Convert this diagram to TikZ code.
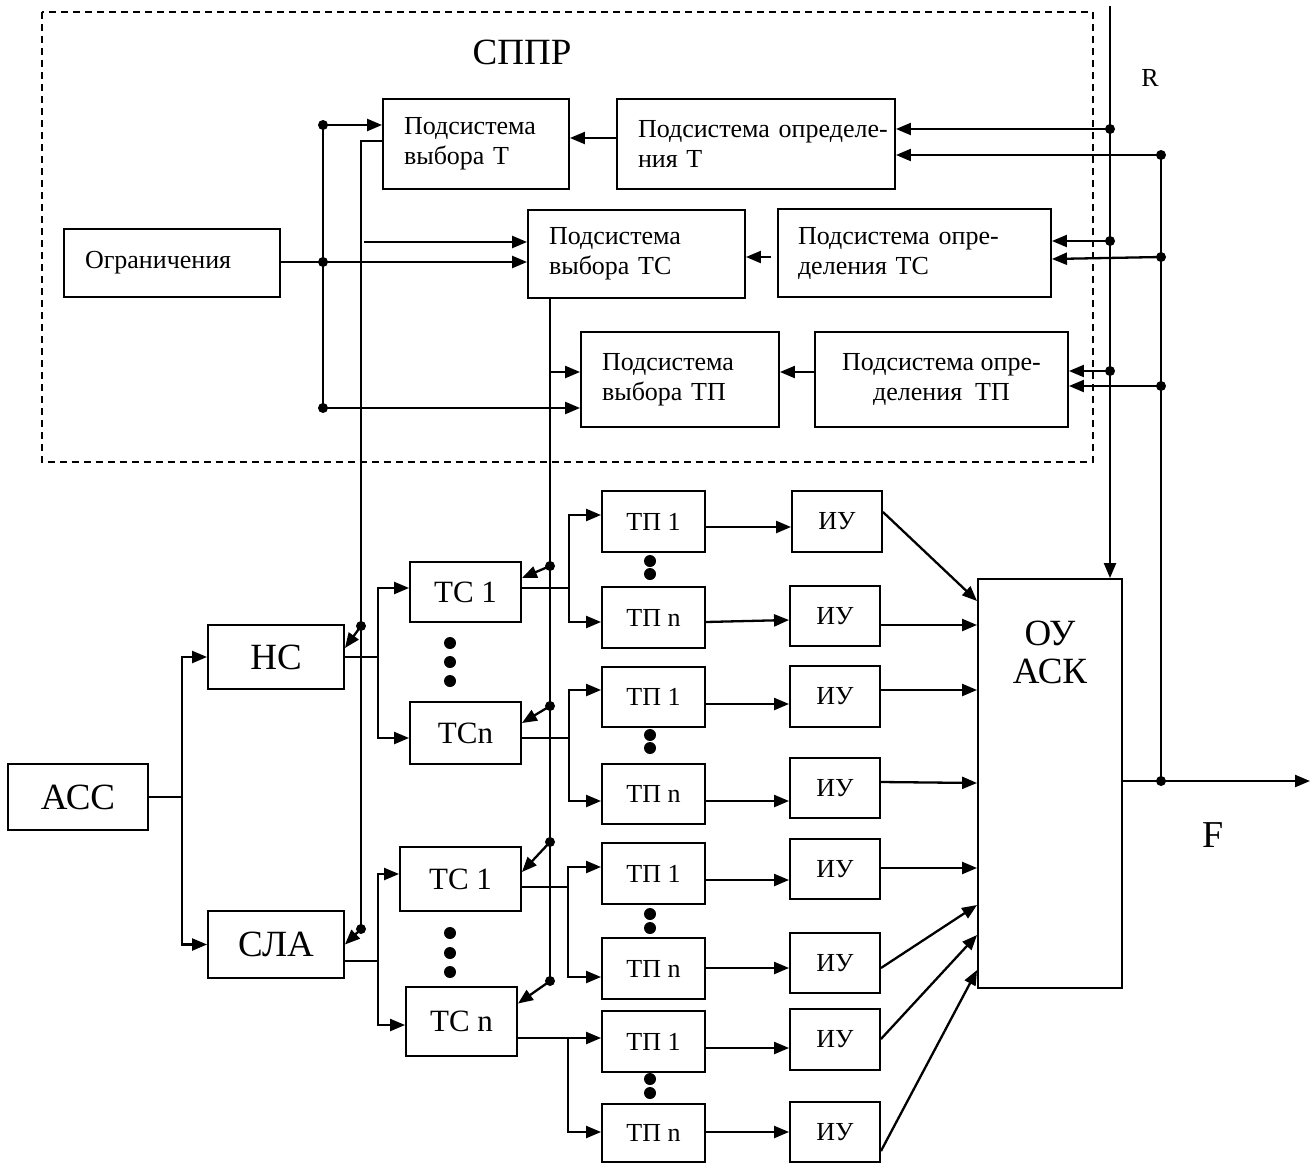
\documentclass[tikz,border=0pt]{standalone}
\usepackage{fontspec}
\setmainfont{Liberation Serif}
\usetikzlibrary{arrows.meta,calc}
\tikzset{
 blk/.style={draw,line width=1.9pt,inner sep=0pt,align=center},
 ar/.style={line width=2.3pt,-{Triangle[length=15pt,width=12pt]}},
 ln/.style={line width=1.9pt},
 fs/.style={font=\fontsize{26}{30}\selectfont},
 fm/.style={font=\fontsize{31}{36}\selectfont},
 fl/.style={font=\fontsize{37}{38}\selectfont},
}
\newcommand\boxC[7][]{%
 \pgfmathsetmacro\qbw{#5-#3}\pgfmathsetmacro\qbh{#6-#4}%
 \pgfmathsetmacro\qbx{(#3+#5)/2}\pgfmathsetmacro\qby{(#4+#6)/2}%
 \node[blk,#1,minimum width=\qbw pt,minimum height=\qbh pt] (#2) at (\qbx,\qby) {#7};}
\newcommand\boxL[8][]{%
 \pgfmathsetmacro\qbw{#5-#3}\pgfmathsetmacro\qbh{#6-#4}%
 \pgfmathsetmacro\qbx{(#3+#5)/2}\pgfmathsetmacro\qby{(#4+#6)/2}%
 \pgfmathsetmacro\qtw{#5-#3-2*#7}%
 \node[blk,#1,minimum width=\qbw pt,minimum height=\qbh pt,text width=\qtw pt,inner xsep=#7pt,align=left] (#2) at (\qbx,\qby) {#8};}
\newcommand\jd[2]{\coordinate (#1) at #2; \fill (#1) circle (5pt);}
\begin{document}
\begin{tikzpicture}[x=1pt,y=-1pt]
\path[use as bounding box] (0,0) rectangle (1316,1164);
% frame
\draw[line width=1.6pt,dash pattern=on 7pt off 5pt] (42,12) rectangle (1093,462);
\node[font=\fontsize{37}{40}\selectfont] (title) at (522,52) {СППР};
\node[font=\fontsize{26}{28}\selectfont] (Rlab) at (1150,78) {R};
\node[font=\fontsize{38}{40}\selectfont] (Flab) at (1213,835) {F};
% top boxes
\boxL[fs]{vybT}{383}{99}{569}{189}{21}{\mbox{Подсистема}\\\mbox{выбора Т}}
\boxL[fs]{oprT}{617}{99}{895}{189}{21}{\mbox{Подсистема определе-}\\\mbox{ния Т}}
\boxL[fs]{ogr}{64}{229}{280}{297}{21}{Ограничения}
\boxL[fs]{vybTC}{528}{210}{745}{298}{21}{\mbox{Подсистема}\\\mbox{выбора ТС}}
\boxL[fs]{oprTC}{778}{209}{1051}{297}{20}{\mbox{Подсистема опре-}\\\mbox{деления ТС}}
\boxL[fs]{vybTP}{581}{332}{779}{427}{21}{\mbox{Подсистема}\\\mbox{выбора ТП}}
\boxC[fs]{oprTP}{815}{332}{1068}{427}{\mbox{Подсистема опре-}\\\mbox{деления\ \ ТП}}
% bottom boxes
\boxC[fl]{acc}{8}{764}{148}{830}{АСС}
\boxC[fl]{ns}{208}{625}{344}{689}{НС}
\boxC[fl]{sla}{208}{911}{344}{978}{СЛА}
\boxC[fm]{tc1a}{410}{562}{521}{622}{ТС 1}
\boxC[fm]{tcna}{410}{702}{521}{764}{ТСn}
\boxC[fm]{tc1b}{400}{847}{521}{911}{ТС 1}
\boxC[fm]{tcnb}{406}{987}{517}{1056}{ТС n}
\boxC[fs]{tp1a}{602}{491}{705}{552}{ТП 1}
\boxC[fs]{tpna}{602}{587}{705}{648}{ТП n}
\boxC[fs]{tp1b}{602}{667}{705}{727}{ТП 1}
\boxC[fs]{tpnb}{602}{764}{705}{824}{ТП n}
\boxC[fs]{tp1c}{602}{843}{705}{904}{ТП 1}
\boxC[fs]{tpnc}{602}{938}{705}{999}{ТП n}
\boxC[fs]{tp1d}{602}{1011}{705}{1072}{ТП 1}
\boxC[fs]{tpnd}{602}{1104}{705}{1162}{ТП n}
\boxC[fs]{iu1}{792}{491}{882}{552}{ИУ}
\boxC[fs]{iu2}{790}{586}{880}{646}{ИУ}
\boxC[fs]{iu3}{790}{666}{880}{727}{ИУ}
\boxC[fs]{iu4}{790}{758}{880}{818}{ИУ}
\boxC[fs]{iu5}{790}{839}{880}{899}{ИУ}
\boxC[fs]{iu6}{790}{933}{880}{993}{ИУ}
\boxC[fs]{iu7}{790}{1009}{880}{1070}{ИУ}
\boxC[fs]{iu8}{790}{1102}{880}{1162}{ИУ}
\boxC{ou}{978}{579}{1122}{988}{}
\node[fl,align=center] (ouT) at (1050,652) {ОУ\\АСК};
% ellipsis dots
\foreach \yy in {643,662,681,933,953,972} \fill (450,\yy) circle (6pt);
\foreach \yy in {561,574,735,748,914,928,1079,1093} \fill (650,\yy) circle (6pt);
% bus from Ограничения
\jd{j1}{(323,125)} \jd{j2}{(323,262)} \jd{j3}{(323,408)}
\draw[ln] (j1) -- (j3);
\draw[ln] (ogr.east |- j2) -- (j2);
\draw[ar] (j1) -- (vybT.west |- j1);
\draw[ar] (j2) -- (vybTC.west |- j2);
\coordinate (c1) at (364,242);
\draw[ar] (c1) -- (vybTC.west |- c1);
\draw[ar] (j3) -- (vybTP.west |- j3);
% output of выбора Т
\jd{dns}{(361,626)} \jd{dsla}{(361,929)}
\draw[ln] (vybT.west |- 0,141) -| (dsla);
\draw[ar] (dns) -- ([yshift=9pt]ns.east);
\draw[ar] (dsla) -- (sla.east);
% determination -> selection
\draw[ar] (oprT.west |- 0,138) -- (vybT.east |- 0,138);
\draw[ar] ([xshift=-6pt]oprTC.west |- 0,257) -- (vybTC.east |- 0,257);
\draw[ar] (oprTP.west |- 0,372) -- (vybTP.east |- 0,372);
% R line
\coordinate (Rtop) at (1110,6);
\draw[ar] (Rtop) -- (Rtop |- ou.north);
\jd{r1}{(1110,129)} \jd{r2}{(1110,241)} \jd{r3}{(1110,371)}
\draw[ar] (r1) -- (oprT.east |- r1);
\draw[ar] (r2) -- (oprTC.east |- r2);
\draw[ar] (r3) -- (oprTP.east |- r3);
% F line and feedback
\jd{f0}{(1161,781)} \jd{f1}{(1161,155)} \jd{f2}{(1161,257)} \jd{f3}{(1161,386)}
\coordinate (Fend) at (1310,781);
\draw[ar] (ou.east |- f0) -- (Fend);
\draw[ln] (f0) -- (f1);
\draw[ar] (f1) -- (oprT.east |- f1);
\draw[ar] (f2) -- (oprTC.east |- 0,259);
\draw[ar] (f3) -- (oprTP.east |- f3);
% output of выбора ТС
\coordinate (s0) at (vybTC.south -| 550,0);
\jd{d1}{(550,566)} \jd{d2}{(550,706)} \jd{d3}{(550,842)} \jd{d4}{(550,981)}
\draw[ln] (s0) -- (d4);
\coordinate (t0) at (550,372);
\draw[ar] (t0) -- (vybTP.west |- t0);
\draw[ar] (d1) -- ([yshift=14pt]tc1a.east);
\draw[ar] (d2) -- ([yshift=10pt]tcna.east);
\draw[ar] (d3) -- ([yshift=7pt]tc1b.east);
\draw[ar] (d4) -- ([yshift=18pt]tcnb.east);
% АСС
\coordinate (b0) at (182,797);
\draw[ln] (acc.east) -- (b0);
\draw[ar] (b0) |- (ns.west);
\draw[ar] (b0) |- (sla.west);
% НС, СЛА -> ТС
\coordinate (b1) at (378,657);
\draw[ln] (ns.east) -- (b1);
\draw[ar] (b1) |- (tc1a.west |- 0,588);
\draw[ar] (b1) |- (tcna.west |- 0,738);
\coordinate (b2) at (378,961);
\draw[ln] (sla.east |- b2) -- (b2);
\draw[ar] (b2) |- (tc1b.west |- 0,874);
\draw[ar] (b2) |- (tcnb.west |- 0,1025);
% ТС -> ТП
\coordinate (b3) at (569,588);
\draw[ln] (tc1a.east |- b3) -- (b3);
\draw[ar] (b3) |- (tp1a.west |- 0,515);
\draw[ar] (b3) |- (tpna.west |- 0,622);
\coordinate (b4) at (569,738);
\draw[ln] (tcna.east |- b4) -- (b4);
\draw[ar] (b4) |- (tp1b.west |- 0,690);
\draw[ar] (b4) |- (tpnb.west |- 0,801);
\coordinate (b5) at (568,887);
\draw[ln] (tc1b.east |- b5) -- (b5);
\draw[ar] (b5) |- (tp1c.west |- 0,867);
\draw[ar] (b5) |- (tpnc.west |- 0,977);
\coordinate (b6) at (568,1038);
\draw[ar] (tcnb.east |- b6) -- (tp1d.west |- b6);
\draw[ar] (b6) |- (tpnd.west |- 0,1132);
% ТП -> ИУ
\draw[ar] (tp1a.east |- 0,527) -- (iu1.west |- 0,527);
\draw[ar] (tpna.east |- 0,622) -- (iu2.west |- 0,620);
\draw[ar] (tp1b.east |- 0,704) -- (iu3.west |- 0,704);
\draw[ar] (tpnb.east |- 0,801) -- (iu4.west |- 0,801);
\draw[ar] (tp1c.east |- 0,880) -- (iu5.west |- 0,880);
\draw[ar] (tpnc.east |- 0,968) -- (iu6.west |- 0,968);
\draw[ar] (tp1d.east |- 0,1048) -- (iu7.west |- 0,1048);
\draw[ar] (tpnd.east |- 0,1132) -- (iu8.west |- 0,1132);
% ИУ -> ОУ АСК
\draw[ar] (iu1.east |- 0,512) -- (ou.west |- 0,601);
\draw[ar] (iu2.east |- 0,625) -- (ou.west |- 0,625);
\draw[ar] (iu3.east |- 0,690) -- (ou.west |- 0,690);
\draw[ar] (iu4.east |- 0,782) -- (ou.west |- 0,783);
\draw[ar] (iu5.east |- 0,868) -- (ou.west |- 0,868);
\draw[ar] (iu6.east |- 0,968) -- (ou.west |- 0,905);
\draw[ar] (iu7.east |- 0,1039) -- (ou.west |- 0,935);
\draw[ar] (iu8.east |- 0,1151) -- (ou.west |- 0,970);
\end{tikzpicture}
\end{document}
